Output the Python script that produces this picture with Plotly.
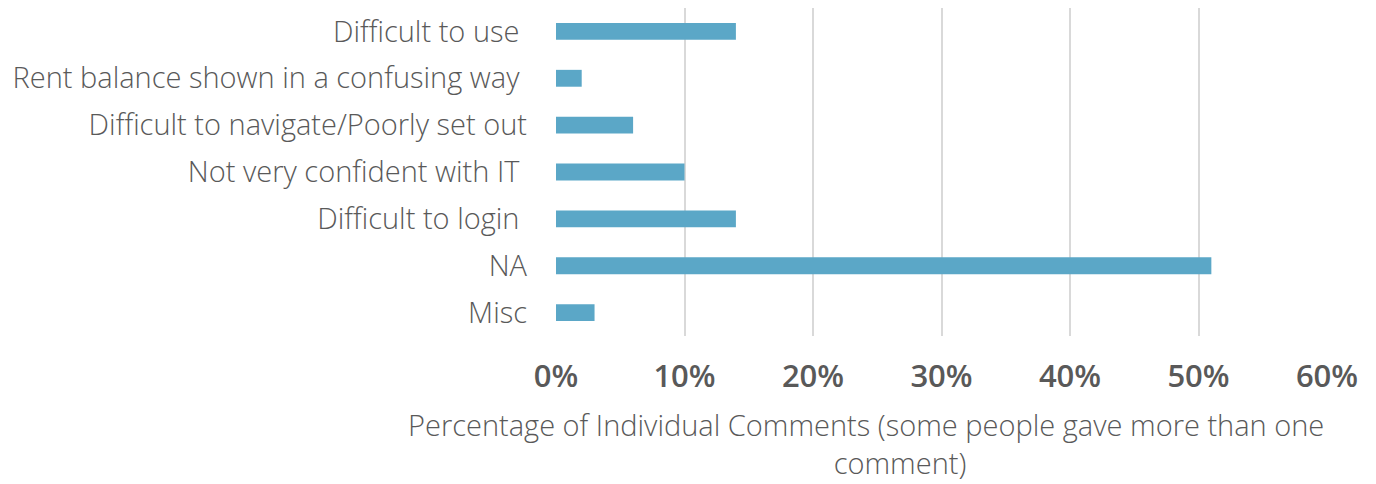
import plotly.graph_objects as go

categories = [
    "Difficult to use\u00a0",
    "Rent balance shown in a confusing way\u00a0",
    "Difficult to navigate/Poorly set out",
    "Not very confident with IT\u00a0",
    "Difficult to login\u00a0",
    "NA",
    "Misc",
]
percentages = [14, 2, 6, 10, 14, 51, 3]
x_ticks = [0, 10, 20, 30, 40, 50, 60]
x_tick_labels = ["0%", "10%", "20%", "30%", "40%", "50%", "60%"]
x_title = ("Percentage of Individual Comments (some people gave more than one"
           "<br>" + "\u00a0" * 9 + "comment)")

GREY = "#595959"
FONT = "Open Sans"

# page body adds an 8px offset, so the figure is 8px smaller on each axis
fig = go.Figure(go.Bar(
    y=categories, x=percentages, orientation="h",
    marker=dict(color="#5BA7C7", line=dict(width=0)),
    width=0.36,
))

fig.update_layout(
    width=1368, height=476,
    paper_bgcolor="white", plot_bgcolor="white",
    margin=dict(l=548, r=49, t=0, b=148),
    font=dict(family=FONT, color=GREY, size=29, weight=300),
    showlegend=False,
    xaxis=dict(
        range=[0, 60], tickvals=x_ticks, ticktext=x_tick_labels,
        showgrid=True, gridcolor="#D9D9D9", gridwidth=2,
        zeroline=False, showline=False, ticks="", automargin=False,
        tickfont=dict(family=FONT, size=31, color=GREY, weight=600),
        ticklabelstandoff=19,
    ),
    yaxis=dict(
        autorange="reversed", showgrid=False, zeroline=False,
        showline=False, ticks="", ticklabelstandoff=28, automargin=False,
        tickfont=dict(family=FONT, size=29, color=GREY, weight=300),
    ),
)

# axis title centred on the chart area rather than on the plot
fig.add_annotation(
    text=x_title, xref="paper", yref="paper", x=0.402, y=-0.328,
    xanchor="center", yanchor="middle", showarrow=False, align="center",
    font=dict(family=FONT, size=29, color=GREY, weight=300),
)

fig.write_html("out.html")
